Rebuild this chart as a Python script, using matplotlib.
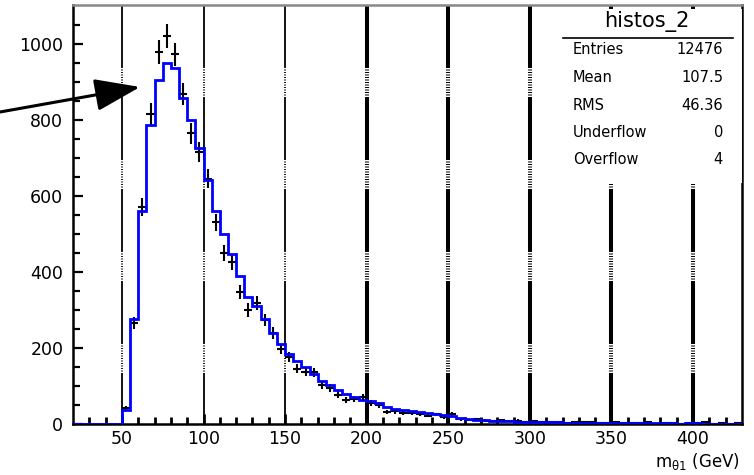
import numpy as np
import matplotlib.pyplot as plt
from matplotlib.patches import Rectangle, FancyArrowPatch
from matplotlib.lines import Line2D

plt.rcParams['font.family'] = ['DejaVu Sans']
plt.rcParams['mathtext.default'] = 'regular'
plt.rcParams['lines.scale_dashes'] = False

# 5 GeV bins from 20 to 430
bin_lo, bin_hi, bin_w = 20, 430, 5

# simulation (blue histogram)
mc = [0, 0, 0, 0, 0, 0,
      38, 275, 560, 787, 905, 950, 935, 858, 800, 725,
      642, 560, 500, 448, 390, 334, 310, 275, 240, 210,
      185, 167, 150, 132, 112, 102, 89, 80, 70, 64,
      60, 54, 46, 40, 37, 34, 31, 29, 26, 24,
      20, 16, 13, 11, 10, 9, 8, 7, 6, 5,
      5, 4, 4, 4, 3, 3, 3, 3, 2, 3,
      2, 2, 2, 2, 2, 2, 2, 2, 1, 2,
      2, 1, 1, 1, 1, 1]

# data points (black crosses)
data = [0, 0, 0, 0, 0, 0,
        42, 265, 570, 815, 978, 1020, 972, 868, 765, 715,
        645, 530, 450, 425, 348, 300, 318, 273, 240, 197,
        176, 145, 138, 136, 103, 95, 77, 63, 66, 71,
        55, 50, 32, 33, 28, 30, 26, 22, 25, 18,
        27, 12, 10, 13, 9, 8, 11, 7, 9, 5,
        7, 4, 5, 6, 3, 5, 4, 6, 3, 2,
        4, 2, 3, 2, 4, 1, 3, 2, 1, 3,
        2, 4, 1, 2, 1, 2]

grid_x = [50, 100, 150, 200, 250, 300, 350, 400]

stat_names = ['Entries', 'Mean', 'RMS', 'Underflow', 'Overflow']
stat_vals = ['12476', '107.5', '46.36', '0', '4']

W, H = 754, 475
fig = plt.figure(figsize=(W / 100, H / 100), dpi=100)
ax = fig.add_axes([73 / W, 1 - 424 / H, (742 - 73) / W, (424 - 5) / H])
ymax = 1102
ax.set_xlim(bin_lo, bin_hi)
ax.set_ylim(0, ymax)

edges = np.arange(bin_lo, bin_hi + 0.1, bin_w)
centers = edges[:-1] + bin_w / 2

# vertical lines: long solid pieces broken by short dotted stretches
px = 0.72
dash = [63 * px, 1.5 * px] + [1 * px, 1.5 * px] * 11
for xv in grid_x:
    lw = 1.3 if xv < 200 else 2.9
    ax.plot([xv, xv], [0, ymax], color='black', lw=lw,
            linestyle=(12 * px, dash), dash_capstyle='butt', zorder=1)

d = np.array(data, dtype=float)
m = d > 0
ax.errorbar(centers[m], d[m], xerr=bin_w / 2, yerr=np.sqrt(d[m]), fmt='none',
            ecolor='black', elinewidth=1.5, capsize=0, zorder=3)
ax.stairs(mc, edges, color='#0000ff', lw=2.0, zorder=4)

ax.set_xticks(grid_x)
ax.set_xticks(np.arange(30, 430, 10), minor=True)
ax.set_yticks(np.arange(0, 1001, 200))
ax.set_yticks(np.arange(0, 1100, 50), minor=True)
ax.tick_params(axis='both', which='both', direction='in', labelsize=12.5)
ax.tick_params(axis='x', which='major', length=7, width=2, pad=4)
ax.tick_params(axis='x', which='minor', length=5, width=2)
ax.tick_params(axis='y', which='major', length=7, width=1.6, pad=7)
ax.tick_params(axis='y', which='minor', length=5, width=1.6)
for s in ['left', 'bottom', 'right']:
    ax.spines[s].set_linewidth(1.8)
ax.spines['top'].set_color('#888888')
ax.spines['top'].set_linewidth(1.8)

# stats box
ax.add_patch(Rectangle(((560 - 73) / 669, (424 - 183) / 419), 0.272, (183 - 9) / 419,
                       transform=ax.transAxes, fc='white', ec='none', zorder=5))
fig.text(647 / W, 1 - 22 / H, 'histos_2', ha='center', va='center', fontsize=15, zorder=6)
fig.add_artist(Line2D([563 / W, 733 / W], [1 - 38 / H] * 2, color='black', lw=1.2))
for i, (n, v) in enumerate(zip(stat_names, stat_vals)):
    y = 1 - (50 + 27.5 * i) / H
    fig.text(573 / W, y, n, ha='left', va='center', fontsize=10.5)
    fig.text(723 / W, y, v, ha='right', va='center', fontsize=10.5)

fig.text(740 / W, 1 - 461 / H, r'm$_{\theta1}$ (GeV)', ha='right', va='center', fontsize=12)

fig.add_artist(FancyArrowPatch((0, 1 - 112 / H), (140 / W, 1 - 87 / H),
                               transform=fig.transFigure, color='black', lw=2.2,
                               arrowstyle='-|>,head_length=2.8,head_width=1.0',
                               mutation_scale=10, shrinkA=0, shrinkB=0))

fig.savefig('out.png', dpi=100)
